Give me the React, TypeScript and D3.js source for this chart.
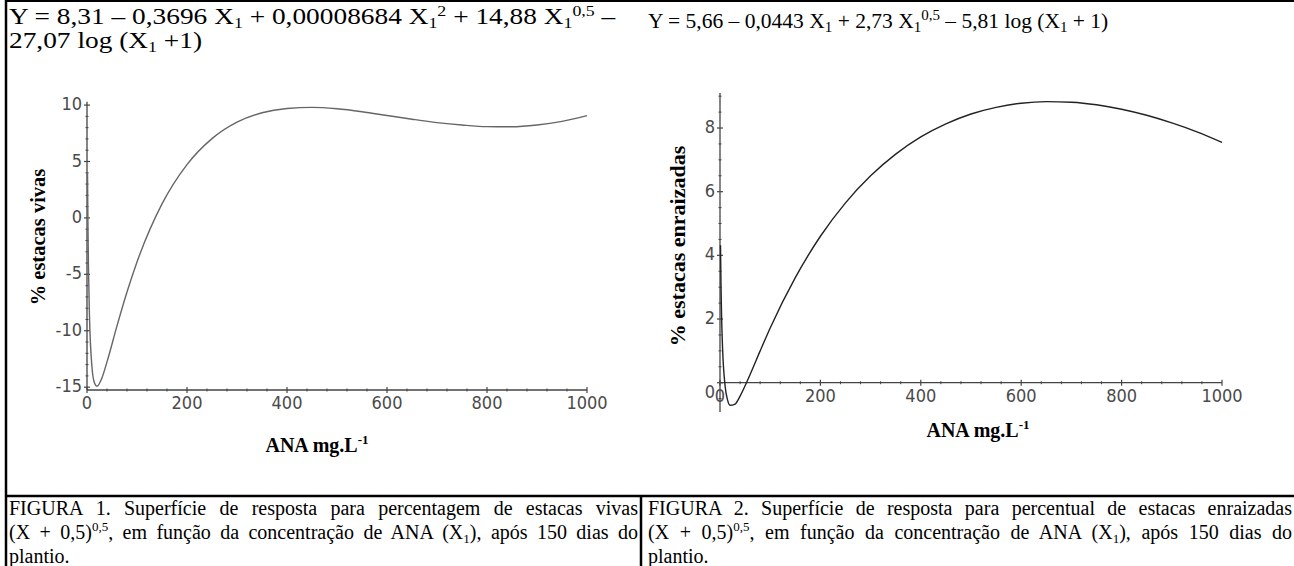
import React, { useEffect, useRef } from "react";
import * as d3 from "d3";

const anaVivas = [1, 2, 3, 5, 10, 15, 20, 30, 40, 60, 80, 100, 150, 200, 250, 300, 350, 400, 450, 500, 550, 600, 650, 700, 750, 800, 850, 900, 950, 1000];
const pctVivas = [4.06, -1.13, -4.56, -8.77, -13.23, -14.63, -14.91, -14.16, -12.76, -9.57, -6.57, -3.91, 1.24, 4.73, 7.03, 8.49, 9.32, 9.7, 9.8, 9.67, 9.41, 9.08, 8.75, 8.45, 8.23, 8.09, 8.08, 8.24, 8.56, 9.06];

const anaEnraiz = [1, 2, 3, 5, 10, 15, 20, 30, 40, 60, 80, 100, 150, 200, 250, 300, 350, 400, 450, 500, 550, 600, 650, 700, 750, 800, 850, 900, 950, 1000];
const pctEnraiz = [4.32, 3.05, 2.2, 1.13, -0.08, -0.54, -0.71, -0.67, -0.42, 0.26, 1.0, 1.72, 3.3, 4.6, 5.65, 6.5, 7.18, 7.72, 8.13, 8.44, 8.65, 8.78, 8.83, 8.81, 8.73, 8.59, 8.4, 8.16, 7.88, 7.55];

const xTicks = [0, 200, 400, 600, 800, 1000];
const yTicksVivas = [-15, -10, -5, 0, 5, 10];
const yTicksEnraiz = [0, 2, 4, 6, 8];

const SERIF = "'Liberation Serif', 'Times New Roman', serif";
const TICKFONT = "'Liberation Sans Narrow', 'DejaVu Sans Condensed', sans-serif";

const Sub = ({ c, fs = 15 }) => (
  <tspan fontSize={fs} baselineShift={-4}>{c}</tspan>
);
const Sup = ({ c, fs = 15, up = 8 }) => (
  <tspan fontSize={fs} baselineShift={up}>{c}</tspan>
);

const Plot = ({ xs, ys, xRange, yDomain, yRange, yTicks, yMinorStep, xAxisAt, zeroDy, stroke }) => {
  const x = d3.scaleLinear().domain([0, 1000]).range(xRange);
  const y = d3.scaleLinear().domain(yDomain).range(yRange);
  const line = d3
    .line<number>()
    .x((d, i) => x(xs[i]))
    .y((d) => y(d))
    .curve(d3.curveMonotoneX);
  const axisCol = "#444";
  const ay = y(xAxisAt);
  const x0 = x(0);
  const xMinor = d3.range(0, 1001, 40).filter((v) => v % 200 !== 0);
  const yMinor = d3
    .range(Math.ceil(yDomain[0] / yMinorStep) * yMinorStep, yDomain[1], yMinorStep)
    .filter((v) => !yTicks.includes(Math.round(v * 100) / 100));

  return (
    <g>
      <line x1={x0} x2={x(1000)} y1={ay} y2={ay} stroke={axisCol} strokeWidth={1.3} />
      <line x1={x0} x2={x0} y1={y(yDomain[0])} y2={y(yDomain[1])} stroke={axisCol} strokeWidth={1.3} />
      {xTicks.map((t) => (
        <g key={"xt" + t}>
          <line x1={x(t)} x2={x(t)} y1={ay - 3} y2={ay + 3} stroke={axisCol} strokeWidth={1.2} />
          <text x={x(t)} y={ay + 14} textAnchor="middle" dominantBaseline="middle"
            fontFamily={TICKFONT} fontSize={18} fill="#4a4a4a">{t}</text>
        </g>
      ))}
      {xMinor.map((t) => (
        <line key={"xm" + t} x1={x(t)} x2={x(t)} y1={ay - 1.5} y2={ay + 1.5} stroke={axisCol} strokeWidth={1} />
      ))}
      {yTicks.map((t) => (
        <g key={"yt" + t}>
          <line x1={x0 - 3} x2={x0 + 3} y1={y(t)} y2={y(t)} stroke={axisCol} strokeWidth={1.2} />
          <text x={x0 - 5} y={y(t) + (t === 0 ? zeroDy : 0)} textAnchor="end" dominantBaseline="middle"
            fontFamily={TICKFONT} fontSize={18} fill="#4a4a4a">{t}</text>
        </g>
      ))}
      {yMinor.map((t) => (
        <line key={"ym" + t} x1={x0 - 1.5} x2={x0 + 1.5} y1={y(t)} y2={y(t)} stroke={axisCol} strokeWidth={1} />
      ))}
      <path d={line(ys) || ""} fill="none" stroke={stroke} strokeWidth={1.4} />
    </g>
  );
};

export default function App() {
  const ref = useRef<SVGSVGElement>(null);

  useEffect(() => {
    // legendas justificadas: espaço entre palavras ajustado à largura da célula
    d3.select(ref.current)
      .selectAll<SVGTextElement, unknown>("text.justify")
      .each(function () {
        const target = +(this.getAttribute("data-w") || 0);
        this.setAttribute("word-spacing", "0");
        const natural = this.getComputedTextLength();
        const spaces = (this.textContent || "").split(" ").length - 1;
        if (spaces > 0) this.setAttribute("word-spacing", String((target - natural) / spaces));
      });
  }, []);

  const capY = [515, 539, 563];

  return (
    <svg ref={ref} width={1294} height={566} style={{ position: "absolute", left: 0, top: 0, background: "#fff" }}>
      {/* bordas da tabela */}
      <line x1={5} x2={1294} y1={1} y2={1} stroke="#000" strokeWidth={2} />
      <line x1={6} x2={6} y1={0} y2={566} stroke="#000" strokeWidth={2.5} />
      <line x1={5} x2={1294} y1={496} y2={496} stroke="#000" strokeWidth={2.5} />
      <line x1={641} x2={641} y1={496} y2={566} stroke="#000" strokeWidth={2.5} />

      {/* equações (a da esquerda vem esticada na horizontal) */}
      <g fontFamily={SERIF} fill="#000">
        <g transform="translate(9,0) scale(1.19,1)" fontSize={23}>
          <text x={0} y={24}>
            Y = 8,31 – 0,3696 X<Sub c="1" /> + 0,00008684 X<Sub c="1" /><Sup c="2" /> + 14,88 X<Sub c="1" /><Sup c="0,5" /> –
          </text>
          <text x={0} y={48}>
            27,07 log (X<Sub c="1" /> +1)
          </text>
        </g>
        <text x={648} y={28} fontSize={21.5}>
          Y = 5,66 – 0,0443 X<Sub c="1" /> + 2,73 X<Sub c="1" /><Sup c="0,5" /> – 5,81 log (X<Sub c="1" /> + 1)
        </text>
      </g>

      <Plot xs={anaVivas} ys={pctVivas} xRange={[87, 587]} yDomain={[-15.25, 10.3]} yRange={[390, 101.7]}
        yTicks={yTicksVivas} yMinorStep={1} xAxisAt={-15.25} zeroDy={0} stroke="#666" />
      <Plot xs={anaEnraiz} ys={pctEnraiz} xRange={[720, 1222]} yDomain={[-0.92, 9.1]} yRange={[412, 93]}
        yTicks={yTicksEnraiz} yMinorStep={0.5} xAxisAt={0} zeroDy={10} stroke="#222" />

      {/* títulos dos eixos */}
      <g fontFamily={SERIF} fontWeight="bold" fill="#000">
        <text transform="translate(45,237) rotate(-90)" textAnchor="middle" fontSize={20.5}>% estacas vivas</text>
        <text transform="translate(685,246) rotate(-90)" textAnchor="middle" fontSize={22}>% estacas enraizadas</text>
        <text x={317} y={452} textAnchor="middle" fontSize={20}>ANA mg.L<Sup c="-1" fs={13} /></text>
        <text x={978} y={437} textAnchor="middle" fontSize={20}>ANA mg.L<Sup c="-1" fs={13} /></text>
      </g>

      {/* legendas */}
      <g fontFamily={SERIF} fontSize={20} fill="#000">
        <text className="justify" data-w={629} x={9} y={capY[0]}>
          FIGURA 1. Superfície de resposta para percentagem de estacas vivas
        </text>
        <text className="justify" data-w={629} x={9} y={capY[1]}>
          (X + 0,5)<Sup c="0,5" fs={13} />, em função da concentração de ANA (X<Sub c="1" fs={13} />), após 150 dias do
        </text>
        <text x={9} y={capY[2]}>plantio.</text>
        <text className="justify" data-w={644} x={648} y={capY[0]}>
          FIGURA 2. Superfície de resposta para percentual de estacas enraizadas
        </text>
        <text className="justify" data-w={644} x={648} y={capY[1]}>
          (X + 0,5)<Sup c="0,5" fs={13} />, em função da concentração de ANA (X<Sub c="1" fs={13} />), após 150 dias do
        </text>
        <text x={648} y={capY[2]}>plantio.</text>
      </g>
    </svg>
  );
}
